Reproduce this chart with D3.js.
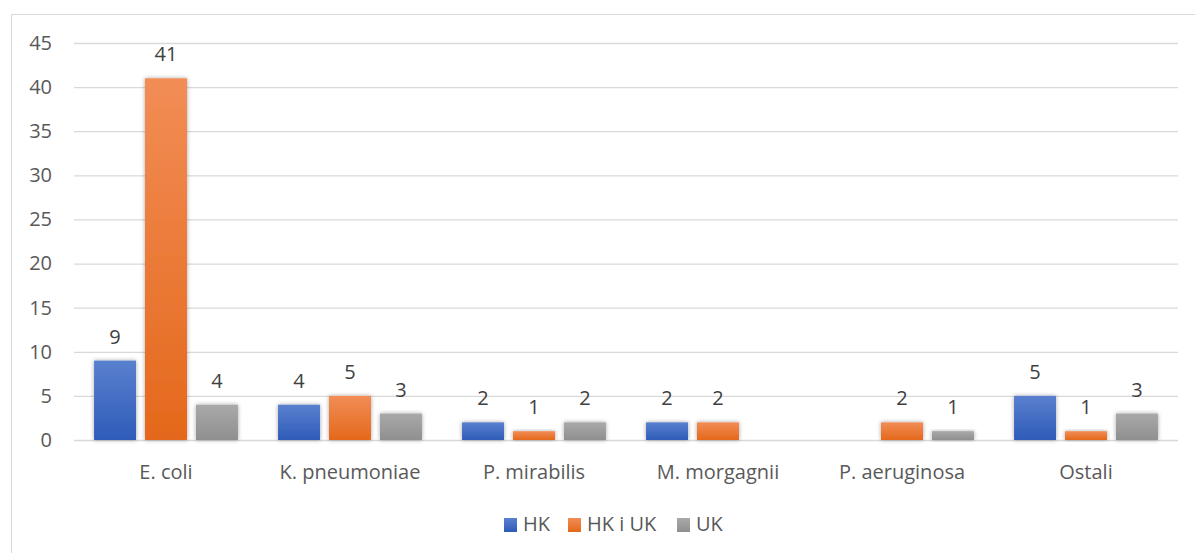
<!DOCTYPE html>
<html><head><meta charset="utf-8">
<script src="https://cdn.jsdelivr.net/npm/d3@7"></script>
<style>
body{margin:0;background:#fff;}
svg text{font-family:"Open Sans","Noto Sans",sans-serif;}
</style></head>
<body><svg id="c" width="1195" height="553"></svg>
<script>
const categories = ["E. coli","K. pneumoniae","P. mirabilis","M. morgagnii","P. aeruginosa","Ostali"];
const seriesNames = ["HK","HK i UK","UK"];
const hk    = [9,4,2,2,null,5];
const hkuk  = [41,5,1,2,2,1];
const uk    = [4,3,2,null,1,3];
const yTicks = [0,5,10,15,20,25,30,35,40,45];
const seriesValues = [hk,hkuk,uk];
const colors = [["#5a80cf","#2e5bb8"],["#f28d56","#e4681b"],["#a9a9a9","#8f8f8f"]];

const svg = d3.select("#c");
const W=1195,H=553;
const m={l:74,r:17,t:43,b:113};
const FS=20;
svg.append("rect").attr("x",11.5).attr("y",14.5).attr("width",1190).attr("height",600)
  .attr("fill","#fff").attr("stroke","#d9d9d9").attr("stroke-width",1);

const defs=svg.append("defs");
colors.forEach((c,i)=>{
  const g=defs.append("linearGradient").attr("id","g"+i).attr("x1",0).attr("y1",0).attr("x2",0).attr("y2",1);
  g.append("stop").attr("offset","0%").attr("stop-color",c[0]);
  g.append("stop").attr("offset","100%").attr("stop-color",c[1]);
});
const f=defs.append("filter").attr("id","sh").attr("x","-20%").attr("y","-20%").attr("width","140%").attr("height","140%");
f.append("feDropShadow").attr("dx",0).attr("dy",0).attr("stdDeviation",2).attr("flood-color","#000").attr("flood-opacity",0.35);

const x=d3.scaleBand().domain(categories).range([m.l,W-m.r]).paddingInner(0.218).paddingOuter(0.109);
const xs=d3.scaleBand().domain(seriesNames).range([0,x.bandwidth()]).paddingInner(0.176);
const y=d3.scaleLinear().domain([0,45]).range([440,43]);

const gy=svg.append("g").attr("transform",`translate(${m.l},0)`)
 .call(d3.axisLeft(y).tickValues(yTicks).tickSize(-(W-m.r-m.l)).tickPadding(22));
gy.select(".domain").remove();
gy.selectAll(".tick line").attr("stroke","#d9d9d9").attr("stroke-width",1.3);
gy.selectAll(".tick text").attr("fill","#595959").attr("font-size",FS);

const gx=svg.append("g").attr("transform",`translate(0,440)`)
 .call(d3.axisBottom(x).tickSize(0).tickPadding(25));
gx.select(".domain").remove();
gx.selectAll(".tick text").attr("fill","#595959").attr("font-size",FS);

seriesNames.forEach((s,si)=>{
  const vals=seriesValues[si];
  const g=svg.append("g");
  categories.forEach((c,ci)=>{
    const v=vals[ci];
    if(v==null) return;
    const bx=x(c)+xs(s);
    g.append("rect").attr("x",bx).attr("y",y(v)).attr("width",xs.bandwidth()).attr("height",y(0)-y(v))
     .attr("fill",`url(#g${si})`).attr("filter","url(#sh)");
    g.append("text").attr("x",bx+xs.bandwidth()/2).attr("y",y(v)-17).attr("text-anchor","middle")
     .attr("fill","#404040").attr("font-size",FS).text(v);
  });
});

const leg=svg.append("g");
const legX=[504,568,677];
seriesNames.forEach((s,i)=>{
  leg.append("rect").attr("x",legX[i]).attr("y",518).attr("width",13).attr("height",14).attr("fill",`url(#g${i})`);
  leg.append("text").attr("x",legX[i]+19).attr("y",531).attr("fill","#595959").attr("font-size",FS).text(s);
});
</script></body></html>
